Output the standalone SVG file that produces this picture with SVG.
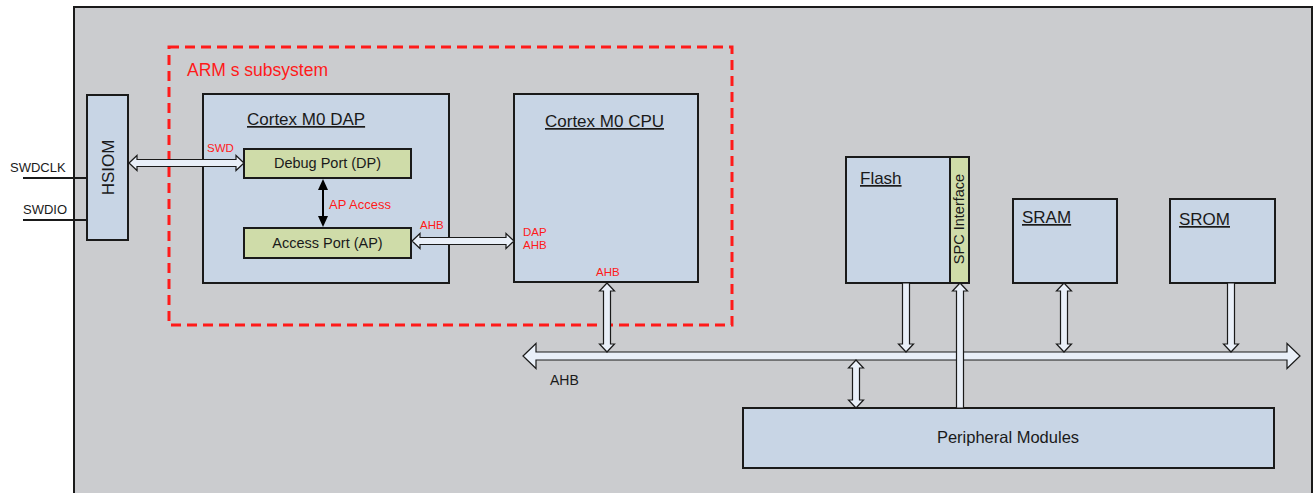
<svg xmlns="http://www.w3.org/2000/svg" width="1313" height="493" viewBox="0 0 1313 493">
<style>
text{font-family:"Liberation Sans",Arial,sans-serif;fill:#1a1a1a}
.blk{fill:#c8d5e5;stroke:#1a1a1a;stroke-width:2}
.grn{fill:#cfdca9;stroke:#1a1a1a;stroke-width:2}
.arr{fill:#e9eff8;stroke:#1a1a1a;stroke-width:1.2;stroke-linejoin:miter}
.red{fill:#ff1a1a}
.ttl{font-size:17px;text-decoration:underline}
.sm{font-size:11.5px}
</style>
<rect x="0" y="0" width="1313" height="493" fill="#ffffff"/>
<rect id="frame" x="74" y="7" width="1238" height="500" fill="#cbcccf" stroke="#1a1a1a" stroke-width="2"/>
<g id="arm-subsystem">
<rect x="169" y="47" width="563" height="278" fill="none" stroke="#ff1a1a" stroke-width="3" stroke-dasharray="10,6"/>
<text x="187" y="76" class="red" font-size="17.5">ARM s subsystem</text>
</g>
<g id="hsiom">
<rect class="blk" x="87" y="95" width="41" height="145"/>
<text transform="translate(114,167.5) rotate(-90)" text-anchor="middle" font-size="17">HSIOM</text>
</g>
<g id="swd-lines">
<text x="10" y="172" font-size="13">SWDCLK</text>
<text x="23" y="214" font-size="13">SWDIO</text>
</g>
<g id="dap">
<rect class="blk" x="203" y="94" width="246" height="189"/>
<text x="247" y="125" class="ttl">Cortex M0 DAP</text>
</g>
<g id="dp">
<rect class="grn" x="244" y="149" width="167" height="29"/>
<text x="327.5" y="168" text-anchor="middle" font-size="14.5">Debug Port (DP)</text>
</g>
<g id="ap">
<rect class="grn" x="244" y="228" width="167" height="30"/>
<text x="327.5" y="248" text-anchor="middle" font-size="14.5">Access Port (AP)</text>
</g>
<g id="cpu">
<rect class="blk" x="514" y="94" width="184" height="188"/>
<text x="545" y="127" class="ttl">Cortex M0 CPU</text>
<text x="523" y="236" class="red sm">DAP</text>
<text x="523" y="249" class="red sm">AHB</text>
<text x="596" y="276" class="red sm">AHB</text>
</g>
<g id="flash">
<rect class="blk" x="846" y="157" width="104" height="126"/>
<rect class="grn" x="950" y="157" width="19" height="126"/>
<text x="860" y="184" class="ttl">Flash</text>
<text transform="translate(964,219) rotate(-90)" text-anchor="middle" font-size="14.5">SPC Interface</text>
</g>
<g id="sram">
<rect class="blk" x="1013" y="199" width="104" height="84"/>
<text x="1022" y="223" class="ttl">SRAM</text>
</g>
<g id="srom">
<rect class="blk" x="1170" y="199" width="105" height="84"/>
<text x="1179" y="225" class="ttl">SROM</text>
</g>
<g id="peripheral">
<rect class="blk" x="743" y="408" width="531" height="60"/>
<text x="1008" y="443" text-anchor="middle" font-size="16.5">Peripheral Modules</text>
</g>
<g id="connectors">
<line x1="23" y1="178" x2="87" y2="178" stroke="#1a1a1a" stroke-width="2"/>
<line x1="23" y1="220" x2="87" y2="220" stroke="#1a1a1a" stroke-width="2"/>
<polygon class="arr" points="129,163 137,155.5 137,159.5 236,159.5 236,155.5 244,163 236,170.5 236,166.5 137,166.5 137,170.5"/>
<text x="207" y="152" class="red sm">SWD</text>
<polygon class="arr" points="412,241 420,233.5 420,237.5 506,237.5 506,233.5 514,241 506,248.5 506,244.5 420,244.5 420,248.5"/>
<text x="420" y="229" class="red sm">AHB</text>
<line x1="323" y1="188" x2="323" y2="218" stroke="#000" stroke-width="2"/>
<polygon points="323,179 328,190 318,190" fill="#000"/>
<polygon points="323,227 328,216 318,216" fill="#000"/>
<text x="329" y="209" class="red" font-size="13">AP Access</text>
<polygon class="arr" points="523,356 536,343.5 536,352 1287,352 1287,343.5 1300,356 1287,368.5 1287,360 536,360 536,368.5"/>
<text x="550" y="385" font-size="14">AHB</text>
<polygon class="arr" points="607,283 614.5,291 610.5,291 610.5,344 614.5,344 607,352 599.5,344 603.5,344 603.5,291 599.5,291"/>
<polygon class="arr" points="902.5,283 909.5,283 909.5,344 913.5,344 906,352 898.5,344 902.5,344"/>
<polygon class="arr" points="1064,283 1071.5,291 1067.5,291 1067.5,344 1071.5,344 1064,352 1056.5,344 1060.5,344 1060.5,291 1056.5,291"/>
<polygon class="arr" points="1227.5,283 1234.5,283 1234.5,344 1238.5,344 1231,352 1223.5,344 1227.5,344"/>
<polygon class="arr" points="856,360 863.5,368 859.5,368 859.5,400 863.5,400 856,408 848.5,400 852.5,400 852.5,368 848.5,368"/>
<polygon class="arr" points="956.5,408 956.5,291 952.5,291 960,283 967.5,291 963.5,291 963.5,408"/>
</g>
</svg>
